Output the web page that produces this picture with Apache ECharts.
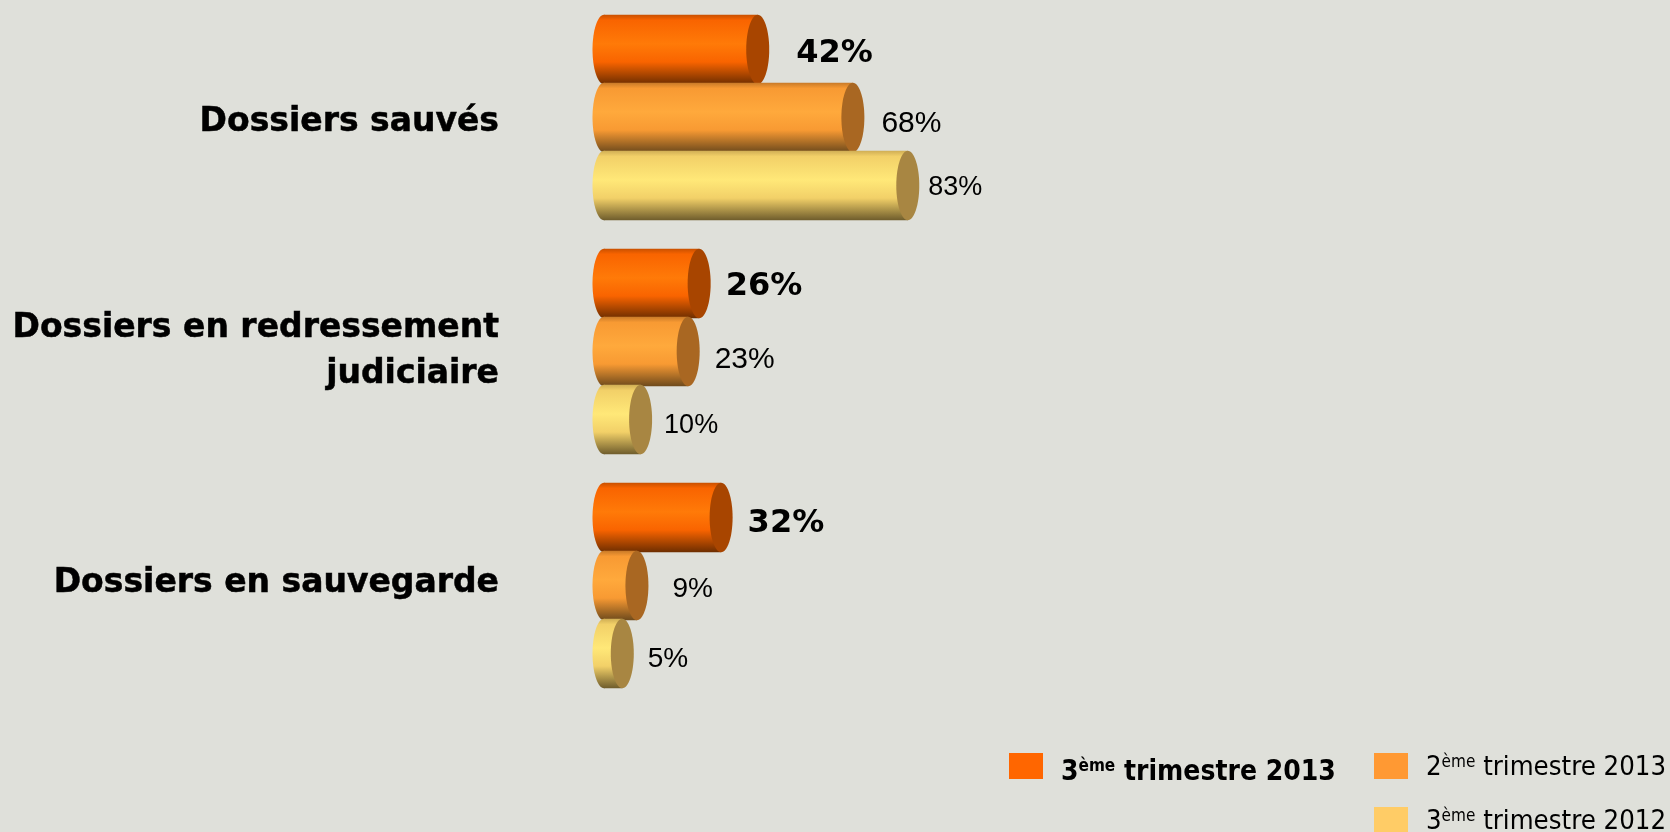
<!DOCTYPE html>
<html>
<head>
<meta charset="utf-8">
<style>
html, body { margin: 0; padding: 0; background: #dfe0da; }
#main { width: 1670px; height: 832px; }
</style>
<script src="https://cdn.jsdelivr.net/npm/echarts@6/dist/echarts.min.js"></script>
</head>
<body>
<div id="main"></div>
<script>
"use strict";
var categories = ["Dossiers sauvés", "Dossiers en redressement\njudiciaire", "Dossiers en sauvegarde"];
var seriesNames = ["3ème trimestre 2013", "2ème trimestre 2013", "3ème trimestre 2012"];
var t3_2013 = [42, 26, 32];
var t2_2013 = [68, 23, 9];
var t3_2012 = [83, 10, 5];

// colours: [legend, top edge, highlight, middle, bottom edge, end cap]
var colors = [
    ["#ff6600", "#c85000", "#ff7a08", "#f96400", "#6e2e00", "#a84500"],
    ["#ff9933", "#c87a28", "#ffa93c", "#f89a33", "#6e4a1c", "#a96722"],
    ["#ffcc66", "#d0ae55", "#ffe878", "#f2d068", "#6e5c2c", "#a88642"]
];
// the labels do not sit at a constant distance from the bars: [dx, dy, font size] per series and category
var labelNudge = [
    [[27, 4, 32], [15, 3, 32], [15, 6, 32]],
    [[17, 6, 30], [15, 8, 30], [24, 4, 28]],
    [[9, 2, 27], [12, 6, 27], [14, 6, 28]]
];

var capRx = 11.5;

function makeItem(seriesIndex) {
    var c = colors[seriesIndex];
    return function (params, api) {
        var cat = api.value(1);
        var val = api.value(0);
        var band = api.size([0, 1])[1];
        var h = band * 0.297;
        var start = api.coord([0, cat]);
        var end = api.coord([val, cat]);
        var cy = start[1] + (seriesIndex - 1) * band * 0.291;
        var fill = new echarts.graphic.LinearGradient(0, 0, 0, 1, [
            { offset: 0, color: c[1] },
            { offset: 0.08, color: c[3] },
            { offset: 0.42, color: c[2] },
            { offset: 0.68, color: c[3] },
            { offset: 1, color: c[4] }
        ]);
        var nudge = labelNudge[seriesIndex][cat];
        var bold = seriesIndex === 0;
        return {
            type: "group",
            children: [
                { type: "ellipse", shape: { cx: start[0], cy: cy, rx: capRx, ry: h / 2 }, style: { fill: fill } },
                { type: "rect", shape: { x: start[0], y: cy - h / 2, width: end[0] - start[0], height: h }, style: { fill: fill } },
                { type: "ellipse", shape: { cx: end[0], cy: cy, rx: capRx, ry: h / 2 }, style: { fill: c[5] } },
                {
                    type: "text",
                    style: {
                        x: end[0] + capRx + nudge[0],
                        y: cy + nudge[1],
                        text: val + "%",
                        fill: "#000",
                        align: "left",
                        verticalAlign: "middle",
                        font: bold ? "bold " + nudge[2] + "px 'DejaVu Sans'" : nudge[2] + "px 'Liberation Sans'"
                    }
                }
            ]
        };
    };
}

function makeSeries(i, values) {
    var data = [];
    for (var k = 0; k < values.length; k++) {
        data.push([values[k], k]);
    }
    return {
        type: "custom",
        name: seriesNames[i],
        renderItem: makeItem(i),
        encode: { x: 0, y: 1 },
        itemStyle: { color: colors[i][0] },
        data: data
    };
}

function legendText(name) {
    var m = name.match(/^(\d)(ème)(.*)$/);
    return "{n|" + m[1] + "}{s|" + m[2] + "}{n|" + m[3] + "}";
}

var legendFont = "'DejaVu Sans Condensed', 'DejaVu Sans'";

function makeLegend(i, left, top, weight, size, padding) {
    return {
        left: left,
        top: top,
        itemWidth: 34,
        itemHeight: 26,
        icon: "rect",
        selectedMode: false,
        data: [seriesNames[i]],
        formatter: legendText,
        textStyle: {
            padding: padding,
            rich: {
                n: { fontFamily: legendFont, fontWeight: weight, fontSize: size, color: "#000" },
                s: { fontFamily: legendFont, fontWeight: weight, fontSize: 17, color: "#000", verticalAlign: "top" }
            }
        }
    };
}

var option = {
    backgroundColor: "#dfe0da",
    animation: false,
    grid: { left: 604, top: 0.5, width: 366, height: 702 },
    xAxis: { type: "value", min: 0, max: 100, show: false },
    yAxis: {
        type: "category",
        inverse: true,
        data: [
            { value: categories[0], textStyle: { verticalAlign: "top", lineHeight: 9 } },
            { value: categories[1] },
            { value: categories[2], textStyle: { verticalAlign: "bottom", lineHeight: 5 } }
        ],
        axisLine: { show: false },
        axisTick: { show: false },
        axisLabel: {
            margin: 105,
            align: "right",
            color: "#000",
            fontFamily: "DejaVu Sans",
            fontWeight: "bold",
            fontSize: 33,
            lineHeight: 46,
            textBorderColor: "#000",
            textBorderWidth: 0.5
        }
    },
    legend: [
        makeLegend(0, 1004, 748, "bold", 28, [13, 0, 0, 13]),
        makeLegend(1, 1369, 748, "normal", 27.3, [3, 0, 0, 13]),
        makeLegend(2, 1369, 802, "normal", 27.3, [3, 0, 0, 13])
    ],
    series: [
        makeSeries(0, t3_2013),
        makeSeries(1, t2_2013),
        makeSeries(2, t3_2012)
    ]
};

var myChart = echarts.init(document.getElementById("main"));
myChart.setOption(option);
</script>
</body>
</html>
